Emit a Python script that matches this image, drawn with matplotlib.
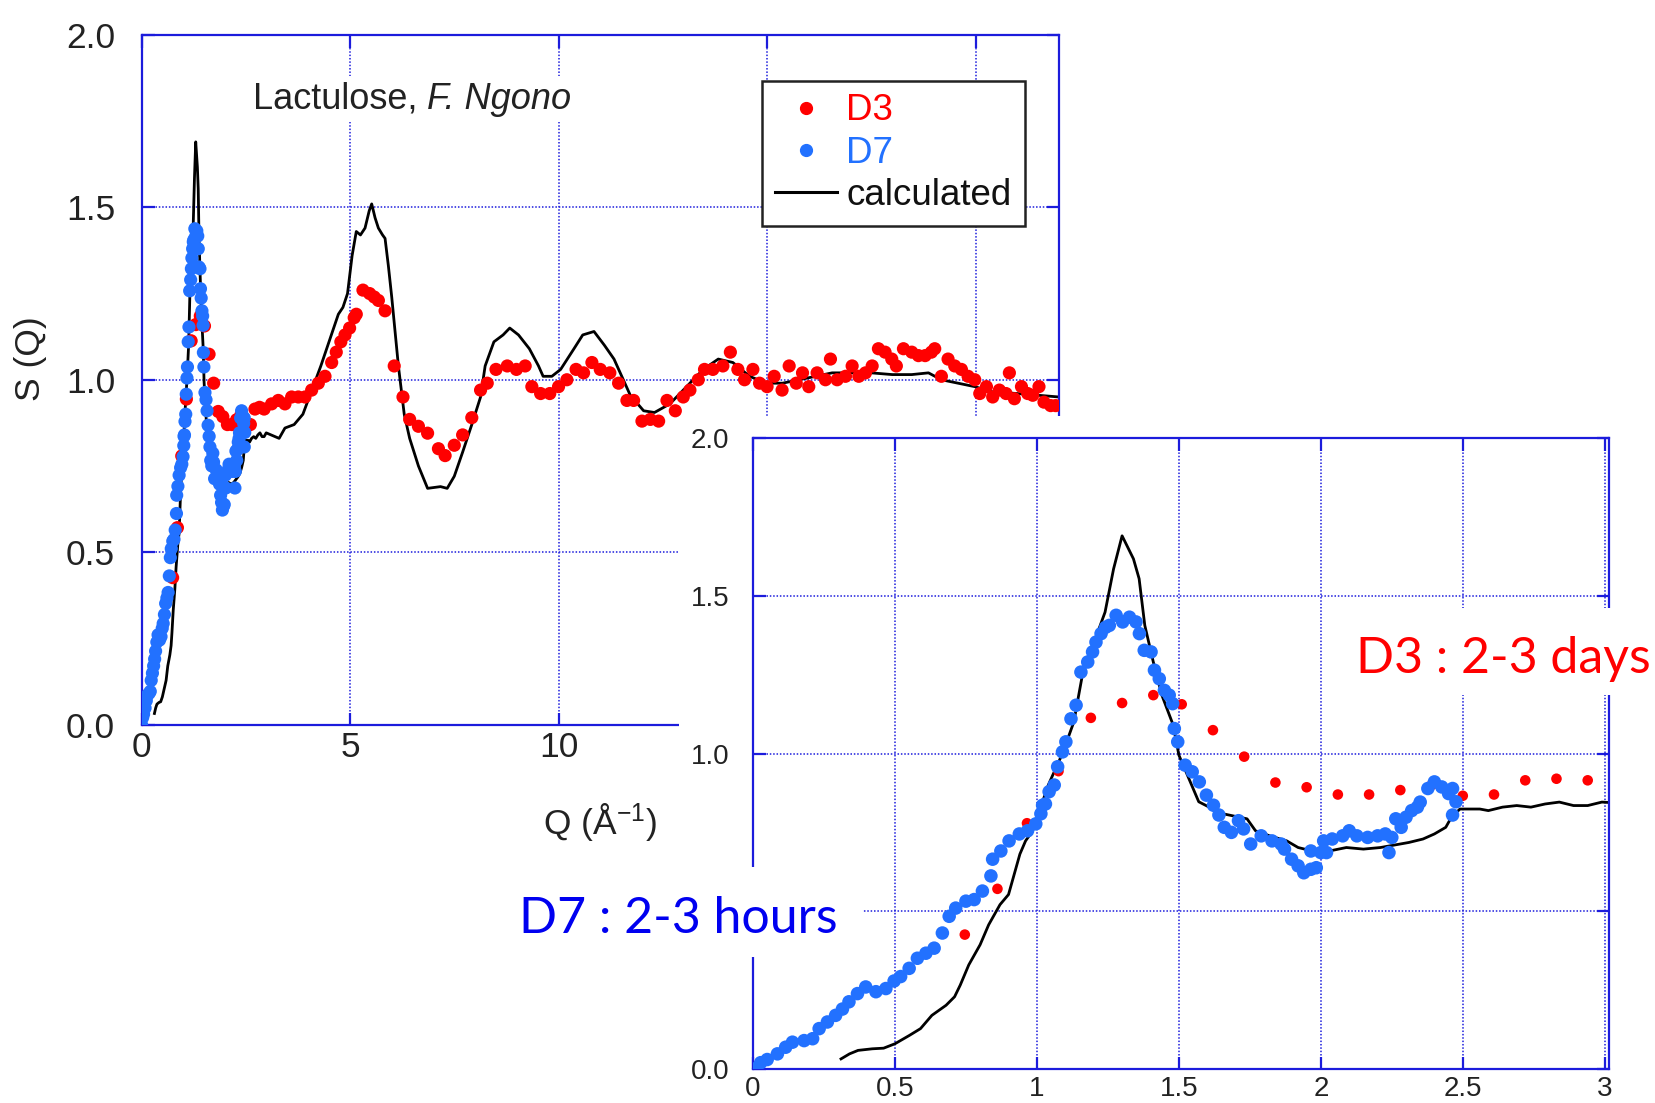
import matplotlib.pyplot as plt
from matplotlib.lines import Line2D
from matplotlib.patches import Rectangle

plt.rcParams['font.family'] = ['Liberation Sans', 'DejaVu Sans']
plt.rcParams['mathtext.fontset'] = 'custom'
plt.rcParams['mathtext.rm'] = 'Liberation Sans'
plt.rcParams['mathtext.it'] = 'Liberation Sans:italic'

# D3 (2-3 days): Q in 1/Angstrom, S(Q)
d3_q = [0.746, 0.861, 0.965, 1.076, 1.19, 1.30, 1.41, 1.51, 1.62, 1.73, 1.84, 1.95,
        2.06, 2.17, 2.28, 2.39, 2.50, 2.61, 2.72, 2.83, 2.94,
        3.12, 3.28, 3.44, 3.6, 3.76, 3.92, 4.08, 4.24, 4.4, 4.56, 4.67, 4.78, 4.88,
        4.99, 5.1, 5.15, 5.31, 5.47, 5.58, 5.68, 5.84, 6.06, 6.27, 6.43, 6.64, 6.86,
        7.12, 7.28, 7.5, 7.7, 7.92, 8.13, 8.29, 8.5, 8.77, 8.99, 9.2, 9.36, 9.57,
        9.79, 10.0, 10.2, 10.42, 10.6, 10.8, 11.0, 11.23, 11.44, 11.64, 11.8, 12.0,
        12.2, 12.4, 12.6, 12.8, 12.99, 13.15, 13.35, 13.5, 13.7, 13.94, 14.12, 14.3,
        14.46, 14.66, 14.82, 15.0, 15.17, 15.36, 15.53, 15.7, 15.85, 16.0, 16.2,
        16.4, 16.52, 16.68, 16.88, 17.04, 17.2, 17.36, 17.52, 17.67, 17.83, 17.99,
        18.1, 18.27, 18.47, 18.63, 18.79, 18.94, 19.02, 19.18, 19.34, 19.5, 19.66,
        19.82, 19.98, 20.1, 20.26, 20.41, 20.57, 20.73, 20.81, 20.93, 21.1, 21.25,
        21.37, 21.52, 21.64, 21.8, 21.92]
d3_s = [0.426, 0.571, 0.779, 0.944, 1.113, 1.16, 1.185, 1.156, 1.074, 0.99, 0.908, 0.893,
        0.87, 0.87, 0.884, 0.90, 0.866, 0.87, 0.915, 0.92, 0.915,
        0.93, 0.94, 0.93, 0.95, 0.95, 0.95, 0.97, 0.99, 1.01, 1.05, 1.08, 1.11, 1.13,
        1.15, 1.18, 1.19, 1.26, 1.25, 1.24, 1.23, 1.20, 1.04, 0.95, 0.885, 0.865, 0.845,
        0.80, 0.78, 0.81, 0.84, 0.89, 0.97, 0.99, 1.03, 1.04, 1.03, 1.04, 0.98, 0.96,
        0.96, 0.98, 1.0, 1.03, 1.02, 1.05, 1.03, 1.02, 0.99, 0.94, 0.94, 0.88,
        0.885, 0.88, 0.94, 0.91, 0.95, 0.97, 1.0, 1.03, 1.03, 1.04, 1.08, 1.03,
        1.0, 1.03, 0.99, 0.98, 1.01, 0.97, 1.04, 0.99, 1.02, 0.98, 1.02,
        1.0, 1.06, 1.0, 1.01, 1.04, 1.01, 1.02, 1.04, 1.09, 1.08, 1.06,
        1.04, 1.09, 1.08, 1.07, 1.07, 1.08, 1.09, 1.01, 1.06, 1.04, 1.03,
        1.01, 1.0, 0.96, 0.98, 0.95, 0.97, 0.96, 1.02, 0.945, 0.98, 0.96,
        0.955, 0.98, 0.935, 0.925, 0.925]

# D7 (2-3 hours)
d7_q = [0.0, 0.027, 0.05, 0.086, 0.115, 0.139, 0.18, 0.21, 0.233, 0.262, 0.291, 0.315,
        0.338, 0.368, 0.397, 0.433, 0.468, 0.497, 0.52, 0.55, 0.579, 0.609, 0.638,
        0.667, 0.691, 0.714, 0.75, 0.779, 0.808, 0.838, 0.844, 0.873, 0.902, 0.938,
        0.967, 0.996, 1.014, 1.02, 1.03, 1.043, 1.061, 1.073, 1.09, 1.102, 1.12,
        1.138, 1.155, 1.179, 1.196, 1.208, 1.226, 1.242, 1.255, 1.279, 1.302, 1.326,
        1.349, 1.361, 1.378, 1.402, 1.414, 1.431, 1.449, 1.466, 1.478, 1.484, 1.496,
        1.522, 1.547, 1.572, 1.597, 1.622, 1.641, 1.66, 1.685, 1.71, 1.728, 1.753,
        1.79, 1.828, 1.86, 1.872, 1.897, 1.92, 1.94, 1.965, 1.984, 1.965, 2.0, 2.02,
        2.01, 2.04, 2.077, 2.1, 2.127, 2.165, 2.2, 2.227, 2.24, 2.25, 2.264, 2.283,
        2.3, 2.32, 2.34, 2.35, 2.377, 2.4, 2.426, 2.45, 2.464, 2.476, 2.464]
d7_s = [0.0, 0.02, 0.03, 0.048, 0.069, 0.085, 0.09, 0.096, 0.128, 0.149, 0.17, 0.19,
        0.213, 0.239, 0.26, 0.245, 0.255, 0.279, 0.293, 0.319, 0.351, 0.367, 0.383,
        0.431, 0.484, 0.51, 0.532, 0.537, 0.564, 0.612, 0.665, 0.691, 0.723, 0.745,
        0.755, 0.777, 0.809, 0.836, 0.84, 0.879, 0.9, 0.958, 1.005, 1.037, 1.11,
        1.153, 1.258, 1.29, 1.322, 1.353, 1.38, 1.40, 1.406, 1.438, 1.417, 1.432,
        1.417, 1.38, 1.327, 1.322, 1.264, 1.237, 1.2, 1.185, 1.158, 1.079, 1.037,
        0.963, 0.942, 0.91, 0.868, 0.836, 0.805, 0.766, 0.75, 0.787, 0.761, 0.713,
        0.739, 0.723, 0.713, 0.697, 0.665, 0.644, 0.622, 0.633, 0.638, 0.691, 0.686, 0.686,
        0.723, 0.729, 0.739, 0.755, 0.739, 0.734, 0.739, 0.745, 0.686, 0.734, 0.793, 0.766,
        0.798, 0.819, 0.83, 0.846, 0.889, 0.91, 0.894, 0.873, 0.889, 0.847, 0.805]

# calculated S(Q)
calc_q = [0.31, 0.34, 0.37, 0.42, 0.46, 0.50, 0.55, 0.59, 0.63, 0.68, 0.71, 0.73, 0.76,
          0.80, 0.83, 0.87, 0.90, 0.92, 0.94, 0.96, 0.985, 1.04, 1.09, 1.13, 1.16, 1.21,
          1.24, 1.27, 1.30, 1.34, 1.36, 1.38, 1.41, 1.44, 1.48, 1.50, 1.57, 1.65, 1.74,
          1.77, 1.82, 1.88, 1.92, 1.97, 2.03, 2.09, 2.15, 2.21, 2.28, 2.31, 2.36, 2.40,
          2.44, 2.46, 2.49, 2.51, 2.56, 2.59, 2.64, 2.69, 2.74, 2.79, 2.84, 2.89, 2.94,
          2.99, 3.3, 3.44, 3.66, 3.87, 4.3, 4.72, 4.83, 4.94, 5.05, 5.15, 5.25, 5.36,
          5.46, 5.52, 5.6, 5.68, 5.78, 5.84, 5.92, 6.0, 6.16, 6.3, 6.43, 6.64, 6.86,
          7.17, 7.33, 7.5, 7.7, 7.92, 8.13, 8.24, 8.45, 8.67, 8.83, 9.04, 9.3, 9.52,
          9.63, 9.84, 10.05, 10.37, 10.58, 10.85, 11.1, 11.33, 11.72, 12.04, 12.3,
          12.67, 13.07, 13.47, 13.83, 14.18, 14.58, 14.98, 15.37, 15.77, 16.17, 16.56,
          16.96, 17.5, 18.0, 18.47, 18.87, 19.18, 19.58, 19.98, 20.4, 21.0, 21.5, 22.0]
calc_s = [0.032, 0.048, 0.059, 0.064, 0.066, 0.08, 0.106, 0.128, 0.17, 0.202, 0.229,
          0.266, 0.33, 0.394, 0.457, 0.521, 0.553, 0.617, 0.681, 0.723, 0.755, 0.90,
          1.0, 1.1, 1.248, 1.374, 1.448, 1.585, 1.69, 1.617, 1.554, 1.406, 1.29, 1.185,
          1.09, 0.995, 0.847, 0.81, 0.793, 0.755, 0.739, 0.723, 0.702, 0.691, 0.691,
          0.702, 0.697, 0.702, 0.713, 0.718, 0.729, 0.745, 0.766, 0.798, 0.824, 0.824,
          0.824, 0.819, 0.83, 0.835, 0.83, 0.84, 0.846, 0.835, 0.835, 0.846, 0.83, 0.86,
          0.87, 0.90, 1.04, 1.19, 1.21, 1.25, 1.36, 1.43, 1.42, 1.44, 1.49, 1.51, 1.47,
          1.44, 1.42, 1.41, 1.33, 1.24, 1.04, 0.9, 0.83, 0.75, 0.685, 0.69, 0.685, 0.72,
          0.79, 0.87, 0.95, 1.04, 1.11, 1.13, 1.15, 1.13, 1.09, 1.04, 1.01, 1.01, 1.03,
          1.09, 1.13, 1.14, 1.10, 1.06, 0.955, 0.91, 0.905, 0.93, 0.98, 1.03, 1.06,
          1.05, 1.01, 0.99, 0.99, 1.00, 1.01, 1.02, 1.02, 1.02, 1.015, 1.015, 1.02,
          1.00, 0.99, 0.98, 0.965, 0.96, 0.955, 0.95]

RED = '#ff0000'
BLUE = '#2271ff'
AXBLUE = '#1c1cdc'
W, H = 1656, 1103

fig = plt.figure(figsize=(W / 100, H / 100), dpi=100)


def style_axes(a, labelsize, ypad, xpad):
    for sp in a.spines.values():
        sp.set_color(AXBLUE)
        sp.set_linewidth(1.6)
    a.tick_params(direction='in', length=9, width=1.6, color=AXBLUE,
                  top=True, right=True, labelsize=labelsize, labelcolor='#222222')
    a.tick_params(axis='y', pad=ypad)
    a.tick_params(axis='x', pad=xpad)
    a.grid(True, color=AXBLUE, linestyle=(0, (1, 1.2)), linewidth=1.1)
    a.set_axisbelow(True)


# main panel, full Q range
ax = fig.add_axes([141.5 / W, 1 - 724.5 / H, 917.5 / W, 689.5 / H])
ax.set_zorder(1)
ax.plot(calc_q, calc_s, color='black', lw=2.0, zorder=2)
ax.scatter(d3_q, d3_s, s=90, color=RED, edgecolors='none', zorder=3)
ax.scatter(d7_q, d7_s, s=90, color=BLUE, edgecolors='none', zorder=4)
ax.set_xlim(0, 22)
ax.set_ylim(0, 2.0)
ax.set_xticks([0, 5, 10, 15, 20])
ax.set_yticks([0, 0.5, 1.0, 1.5, 2.0])
ax.set_yticklabels(['0.0', '0.5', '1.0', '1.5', '2.0'])
style_axes(ax, 25.5, 19, 5)
ax.set_xlabel('Q (Å$^{-1}$)', fontsize=25.5, color='#222222')
ax.xaxis.set_label_coords(0.5, -0.112)
ax.set_ylabel('S (Q)', fontsize=25.5, color='#222222')
ax.yaxis.set_label_coords(-0.103, 0.53)

t1 = ax.text(2.67, 1.786, 'Lactulose, ', fontsize=26, color='#222222',
             va='baseline', zorder=5,
             bbox=dict(facecolor='white', edgecolor='none', pad=4))
ax.annotate('F. Ngono', xy=(1, 0), xycoords=t1, fontsize=26, color='#222222',
            style='italic', va='bottom', zorder=5,
            bbox=dict(facecolor='white', edgecolor='none', pad=4))

handles = [Line2D([], [], marker='o', ls='none', color=RED, markersize=8.5),
           Line2D([], [], marker='o', ls='none', color=BLUE, markersize=8.5),
           Line2D([], [], color='black', lw=2.2)]
leg = ax.legend(handles, ['D3', 'D7', 'calculated'], loc='upper left',
                bbox_to_anchor=(0.676, 0.934), fontsize=26.5, frameon=True,
                fancybox=False, edgecolor='#222222', framealpha=1,
                handlelength=1.7, handletextpad=0.25, labelspacing=0.2,
                borderpad=0.35, borderaxespad=0)
leg.get_frame().set_linewidth(1.8)
for txt, c in zip(leg.get_texts(), [RED, BLUE, '#111111']):
    txt.set_color(c)

# white sheet under the zoomed panel
fig.add_artist(Rectangle((679 / W, 0), 1 - 679 / W, 1 - 416 / H,
                         transform=fig.transFigure, facecolor='white',
                         edgecolor='none', zorder=2))

# zoomed panel, low Q
ax2 = fig.add_axes([753 / W, 1 - 1069 / H, 856 / W, 631 / H])
ax2.set_zorder(3)
ax2.plot(calc_q, calc_s, color='black', lw=2.0, zorder=2)
ax2.scatter(d3_q, d3_s, s=58, color=RED, edgecolors='none', zorder=3)
ax2.scatter(d7_q, d7_s, s=95, color=BLUE, edgecolors='none', zorder=4)
ax2.set_xlim(0, 3.015)
ax2.set_ylim(0, 2.0)
ax2.set_xticks([0, 0.5, 1, 1.5, 2, 2.5, 3])
ax2.set_xticklabels(['0', '0.5', '1', '1.5', '2', '2.5', '3'])
ax2.set_yticks([0, 0.5, 1.0, 1.5, 2.0])
ax2.set_yticklabels(['0.0', '', '1.0', '1.5', '2.0'])
style_axes(ax2, 20, 17, 5)

# annotation boxes
fig.add_artist(Rectangle((1335 / W, 1 - 695 / H), (W - 1335) / W, 87 / H,
                         transform=fig.transFigure, facecolor='white',
                         edgecolor='none', zorder=4))
fig.text(1356 / W, 1 - 673 / H, 'D3 : 2-3 days', fontsize=36, color=RED,
         family=['Lato', 'DejaVu Sans'], va='baseline', ha='left', zorder=5)
fig.add_artist(Rectangle((500 / W, 1 - 957 / H), 363 / W, 90 / H,
                         transform=fig.transFigure, facecolor='white',
                         edgecolor='none', zorder=4))
fig.text(519 / W, 1 - 933 / H, 'D7 : 2-3 hours', fontsize=36, color='#0000f0',
         family=['Lato', 'DejaVu Sans'], va='baseline', ha='left', zorder=5)

fig.savefig('out.png', dpi=100, facecolor='white')
